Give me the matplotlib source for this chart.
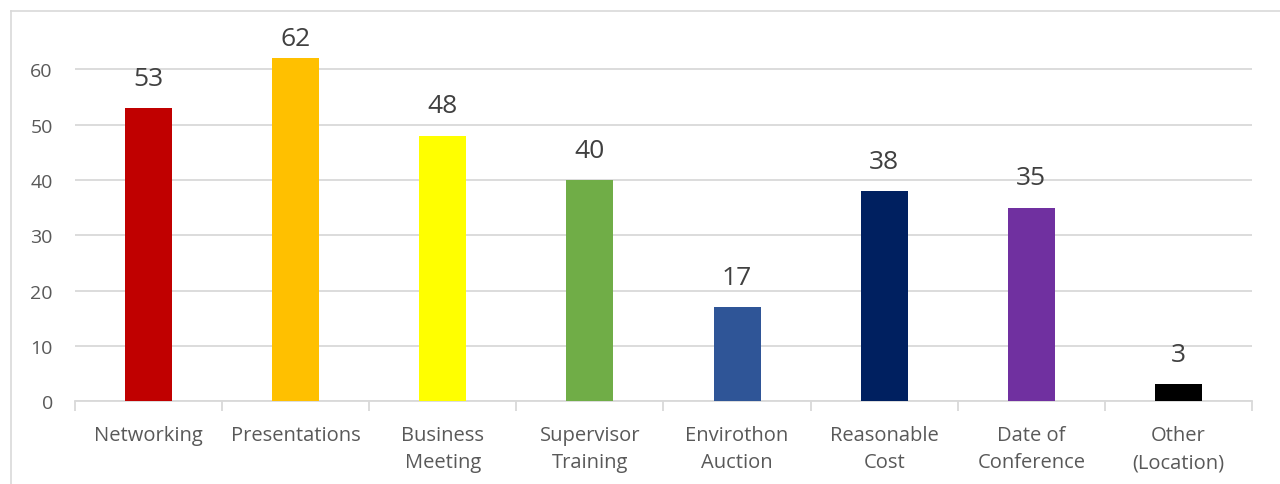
import matplotlib.pyplot as plt
from matplotlib.lines import Line2D

# datos del grafico
categorias = ["Networking", "Presentations", "Business\nMeeting", "Supervisor\nTraining",
              "Envirothon\nAuction", "Reasonable\nCost", "Date of\nConference", "Other\n(Location)"]
valores = [53, 62, 48, 40, 17, 38, 35, 3]
colores = ["#C00000", "#FFC000", "#FFFF00", "#70AD47", "#2F5597", "#002060", "#7030A0", "#000000"]

plt.rcParams['font.family'] = ['Open Sans', 'DejaVu Sans']

fig = plt.figure(figsize=(12.8, 4.85), dpi=100)
ax = fig.add_axes([0.0586, 0.171, 0.9195, 0.801])

x = range(len(categorias))
ax.bar(x, valores, width=0.32, color=colores, zorder=3)
for i, v in enumerate(valores):
    # la etiqueta se queda dentro del area si no cabe arriba
    ax.text(i, min(v + 5.4, 65.7), str(v), ha='center', va='center', fontsize=19, color='#404040')

ax.set_xlim(-0.5, len(categorias) - 0.5)
ax.set_ylim(0, 70.3)
ax.set_yticks(range(0, 61, 10))
ax.yaxis.grid(True, color='#D9D9D9', linewidth=1.3, zorder=0)
ax.tick_params(axis='y', length=0, labelsize=14, labelcolor='#595959', pad=16)

# marcas entre categorias
ax.set_xticks([i + 0.5 for i in range(-1, len(categorias))], minor=True)
ax.set_xticks(list(x))
ax.set_xticklabels(categorias, linespacing=1.5)
ax.tick_params(axis='x', which='major', length=0, labelsize=14.5, labelcolor='#595959', pad=17)
ax.tick_params(axis='x', which='minor', length=7, color='#D9D9D9', width=1.3)
for s in ['top', 'right', 'left']:
    ax.spines[s].set_visible(False)
ax.spines['bottom'].set_color('#D9D9D9')
ax.spines['bottom'].set_linewidth(1.3)

# borde del area del grafico
fig.add_artist(Line2D([0.0086, 0.0086], [0, 0.975], color='#D9D9D9', linewidth=1.2, transform=fig.transFigure))
fig.add_artist(Line2D([0.0086, 1.0], [0.975, 0.975], color='#D9D9D9', linewidth=1.2, transform=fig.transFigure))

fig.savefig('out.png', dpi=100)
